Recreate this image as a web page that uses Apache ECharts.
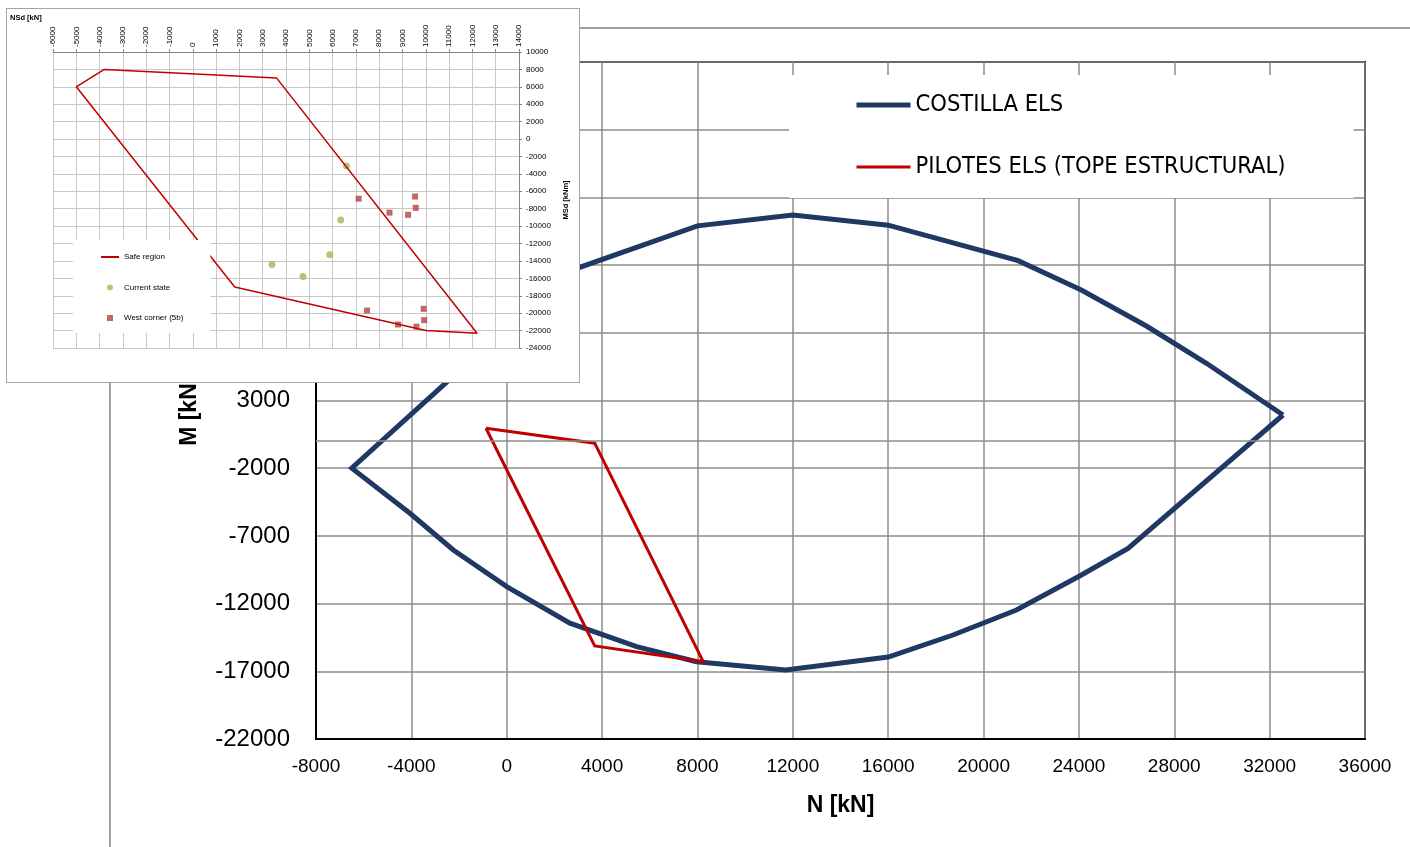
<!DOCTYPE html>
<html>
<head>
<meta charset="utf-8">
<title>Diagrama de interacción N-M</title>
<script src="https://cdn.jsdelivr.net/npm/echarts@6/dist/echarts.min.js"></script>
<style>
  html, body { margin: 0; padding: 0; background: #fff; }
  #main { position: absolute; left: 0; top: 0; width: 1410px; height: 847px; }
  #inset { position: absolute; left: 6px; top: 8px; width: 574px; height: 375px;
           box-sizing: border-box; border: 1px solid #a6a6a6; background: #fff; }
</style>
</head>
<body>
<div id="main"></div>
<div id="inset"></div>
<script>
// ---- Main diagram: N [kN] vs M [kNm] ----
// COSTILLA ELS envelope, [N, M]
const costillaEls = [
  [32560, 1930], [29350, 5750], [26830, 8500], [24100, 11160], [21450, 13330],
  [16000, 15950], [12000, 16700], [8000, 15900], [2650, 12580], [0, 8900],
  [-2240, 4800], [-4060, 1900], [-6500, -2000], [-4060, -5330], [-2240, -8040],
  [0, -10750], [2650, -13450], [5450, -15180], [7960, -16290], [11700, -16900],
  [16000, -15950], [18720, -14320], [21380, -12470], [24030, -9960], [26060, -7920],
  [32560, 1930]
];
// PILOTES ELS (tope estructural), [N, M]
const pilotesEls = [
  [-870, 950], [3690, -150], [8240, -16290], [3690, -15130], [-870, 950]
];
const mainXTicks = { min: -8000, max: 36000, step: 4000 };
const mainYTicks = { min: -22000, max: 28000, step: 5000 };

// ---- Inset diagram: NSd [kN] vs MSd [kNm] ----
const safeRegion = [
  [-3800, 8000], [3600, 7000], [12200, -22300], [10000, -22000],
  [1800, -17000], [-5000, 6000], [-3800, 8000]
];
const currentState = [
  [6600, -3100], [6350, -9300], [5880, -13300], [4730, -15800], [3400, -14400]
];
const westCorner = [
  [7120, -6850], [9540, -6600], [9570, -7900], [8440, -8450], [9240, -8700],
  [7480, -19700], [9910, -19500], [9930, -20800], [8810, -21300], [9600, -21550]
];
const insetXTicks = { min: -6000, max: 14000, step: 1000 };
const insetYTicks = { min: -24000, max: 10000, step: 2000 };

const NAVY = '#1f3864';
const RED = '#c00000';
const FONT = 'Liberation Sans, Arial, sans-serif';
const NARROW = '"Liberation Sans Narrow", "DejaVu Sans Condensed", "Liberation Sans", sans-serif';
const plain = v => String(v);
const SQUARE = 'path://M0,0H10V10H0Z';

const mainChart = echarts.init(document.getElementById('main'), null, { renderer: 'canvas' });
mainChart.setOption({
  animation: false,
  backgroundColor: '#fff',
  graphic: [{
    type: 'rect', silent: true, z: -10,
    shape: { x: 110, y: 28, width: 1400, height: 900 },
    style: { fill: 'none', stroke: '#a0a0a0', lineWidth: 2 }
  }],
  grid: {
    left: 316, right: 45, top: 62, bottom: 108,
    show: true, borderColor: '#000', borderWidth: 2, backgroundColor: 'transparent'
  },
  xAxis: {
    type: 'value', min: mainXTicks.min, max: mainXTicks.max, interval: mainXTicks.step,
    axisLine: { show: true, onZero: false, lineStyle: { color: '#000', width: 2 } },
    axisTick: { show: false },
    splitLine: { show: true, lineStyle: { color: '#8c8c8c', width: 1.5 } },
    axisLabel: { fontFamily: FONT, fontSize: 19, color: '#000', margin: 18, formatter: plain },
    name: 'N [kN]', nameLocation: 'middle', nameGap: 55,
    nameTextStyle: { fontFamily: FONT, fontSize: 23, fontWeight: 'bold', color: '#000' }
  },
  yAxis: {
    type: 'value', min: mainYTicks.min, max: mainYTicks.max, interval: mainYTicks.step,
    axisLine: { show: true, onZero: false, lineStyle: { color: '#000', width: 2 } },
    axisTick: { show: false },
    splitLine: { show: true, lineStyle: { color: '#8c8c8c', width: 1.5 } },
    axisLabel: { fontFamily: FONT, fontSize: 24, color: '#000', margin: 26, formatter: plain },
    name: 'M [kNm]', nameLocation: 'middle', nameGap: 115, nameRotate: 90,
    nameTextStyle: { fontFamily: FONT, fontSize: 23, fontWeight: 'bold', color: '#000' }
  },
  legend: {
    orient: 'vertical', left: 789, top: 75,
    backgroundColor: '#fff', padding: [17, 68, 18, 65],
    itemGap: 36, itemWidth: 54, itemHeight: 6,
    textStyle: { fontFamily: NARROW, fontSize: 23.5, color: '#000', lineHeight: 26 },
    data: [
      { name: 'COSTILLA ELS', lineStyle: { width: 5, color: NAVY }, itemStyle: { opacity: 0 } },
      { name: 'PILOTES ELS (TOPE ESTRUCTURAL)', lineStyle: { width: 3, color: RED }, itemStyle: { opacity: 0 } }
    ]
  },
  series: [
    {
      name: 'COSTILLA ELS', type: 'line', data: costillaEls, symbol: 'none',
      lineStyle: { color: NAVY, width: 5, join: 'miter' }, itemStyle: { color: NAVY },
      markLine: {
        silent: true, symbol: 'none', label: { show: false },
        lineStyle: { color: '#8c8c8c', width: 1.5, type: 'solid' },
        data: [{ yAxis: 0 }]
      }
    },
    {
      name: 'PILOTES ELS (TOPE ESTRUCTURAL)', type: 'line', data: pilotesEls, symbol: 'none',
      lineStyle: { color: RED, width: 3, join: 'miter' }, itemStyle: { color: RED }
    }
  ]
});

const insetChart = echarts.init(document.getElementById('inset'), null, { renderer: 'canvas' });
insetChart.setOption({
  animation: false,
  backgroundColor: '#fff',
  title: {
    text: 'NSd [kN]', left: 3, top: 5, padding: 0,
    textStyle: { fontFamily: FONT, fontSize: 7.5, fontWeight: 'bold', color: '#000' }
  },
  grid: { left: 46, top: 43, width: 466, height: 296 },
  xAxis: {
    type: 'value', position: 'top',
    min: insetXTicks.min, max: insetXTicks.max, interval: insetXTicks.step,
    axisLine: { show: true, onZero: false, lineStyle: { color: '#868686', width: 1 } },
    axisTick: { show: true, length: 3, lineStyle: { color: '#868686' } },
    splitLine: { show: true, lineStyle: { color: '#c8c8c8', width: 1 } },
    axisLabel: { rotate: -90, fontFamily: FONT, fontSize: 8, color: '#000', margin: 5, formatter: plain }
  },
  yAxis: {
    type: 'value', position: 'right',
    min: insetYTicks.min, max: insetYTicks.max, interval: insetYTicks.step,
    axisLine: { show: true, onZero: false, lineStyle: { color: '#868686', width: 1 } },
    axisTick: { show: true, length: 3, lineStyle: { color: '#868686' } },
    splitLine: { show: true, lineStyle: { color: '#c8c8c8', width: 1 } },
    axisLabel: { fontFamily: FONT, fontSize: 8, color: '#000', margin: 7, formatter: plain },
    name: 'MSd [kNm]', nameLocation: 'middle', nameGap: 40, nameRotate: 90,
    nameTextStyle: { fontFamily: FONT, fontSize: 7.5, fontWeight: 'bold', color: '#000' }
  },
  legend: {
    orient: 'vertical', left: 66, top: 231,
    backgroundColor: '#fff', padding: [12, 27, 10, 27],
    itemGap: 20.5, itemWidth: 18, itemHeight: 6,
    textStyle: { fontFamily: FONT, fontSize: 8, color: '#000', lineHeight: 10 },
    data: [
      { name: 'Safe region', lineStyle: { width: 2, color: RED }, itemStyle: { opacity: 0 } },
      { name: 'Current state', icon: 'circle' },
      { name: 'West corner (5b)', icon: SQUARE }
    ]
  },
  series: [
    {
      name: 'Safe region', type: 'line', data: safeRegion, symbol: 'none',
      lineStyle: { color: RED, width: 1.5 }, itemStyle: { color: RED }
    },
    {
      name: 'Current state', type: 'scatter', data: currentState,
      symbol: 'circle', symbolSize: 7, itemStyle: { color: '#9bbb59' }
    },
    {
      name: 'West corner (5b)', type: 'scatter', data: westCorner,
      symbol: 'rect', symbolSize: 6, itemStyle: { color: '#b3423e' }
    }
  ]
});
</script>
</body>
</html>
